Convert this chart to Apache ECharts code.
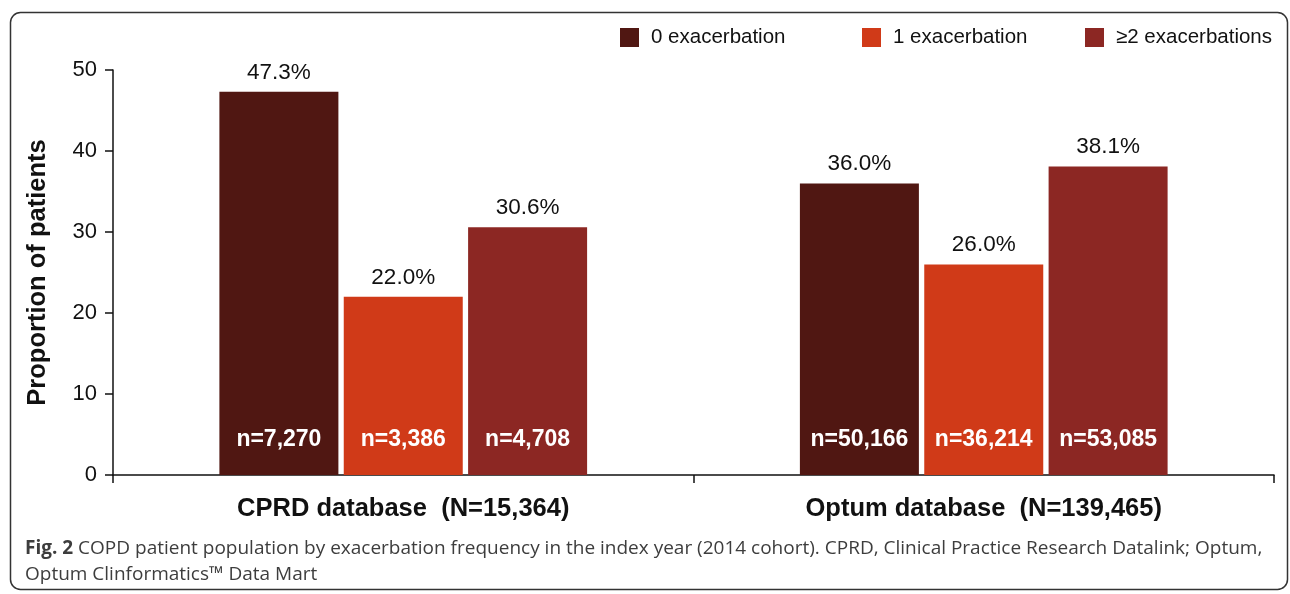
<!DOCTYPE html>
<html>
<head>
<meta charset="utf-8">
<script src="https://cdn.jsdelivr.net/npm/echarts@6/dist/echarts.min.js"></script>
<style>
html, body { margin: 0; padding: 0; background: #fff; }
#chart { width: 1290px; height: 594px; }
</style>
</head>
<body>
<div id="chart"></div>
<script>
var categories = ['CPRD database  (N=15,364)', 'Optum database  (N=139,465)'];
var seriesNames = ['0 exacerbation', '1 exacerbation', '\u22652 exacerbations'];
var zeroExac = [47.3, 36.0];
var oneExac = [22.0, 26.0];
var twoExac = [30.6, 38.1];
var zeroN = ['7,270', '50,166'];
var oneN = ['3,386', '36,214'];
var twoN = ['4,708', '53,085'];
var yTicks = [0, 10, 20, 30, 40, 50];

var colors = ['#501712', '#D03A18', '#8C2723'];
var font = 'Arial, "Liberation Sans", sans-serif';

// visible bars with the % on top
function makeSeries(name, values, idx) {
    return {
        name: name,
        type: 'bar',
        barWidth: 119,
        barGap: '4.5%',
        itemStyle: { color: colors[idx] },
        data: values,
        label: {
            show: true,
            position: 'top',
            distance: 8,
            color: '#111',
            fontFamily: font,
            fontSize: 22.5,
            formatter: function (p) { return p.value.toFixed(1) + '%'; }
        }
    };
}

// transparent copies on a hidden axis, only to hold the n= counts
function countSeries(values, counts) {
    return {
        type: 'bar',
        barWidth: 119,
        barGap: '4.5%',
        silent: true,
        xAxisIndex: 1,
        itemStyle: { color: 'transparent' },
        data: values,
        label: {
            show: true,
            position: 'insideBottom',
            distance: 24,
            color: '#fff',
            fontFamily: font,
            fontWeight: 'bold',
            fontSize: 23,
            formatter: function (p) { return 'n=' + counts[p.dataIndex]; }
        }
    };
}

var chart = echarts.init(document.getElementById('chart'));
var option = {
    animation: false,
    graphic: [{
        type: 'rect',
        shape: { x: 10.5, y: 12.5, width: 1277, height: 577, r: 10 },
        style: { fill: 'none', stroke: '#333', lineWidth: 1.5 },
        z: -1
    }, {
        type: 'text',
        left: 25,
        top: 536,
        style: {
            text: '{b|Fig. 2} COPD patient population by exacerbation frequency in the index year (2014 cohort). CPRD, Clinical Practice Research Datalink; Optum,\nOptum Clinformatics\u2122 Data Mart',
            fontFamily: '"Open Sans", sans-serif',
            fontSize: 19,
            lineHeight: 26,
            fill: '#3d3d3d',
            rich: {
                b: { fontFamily: '"Open Sans", sans-serif', fontSize: 19, fontWeight: 'bold', fill: '#3d3d3d', lineHeight: 26 }
            }
        }
    }],
    legend: [0, 1, 2].map(function (i) {
        return {
            data: [seriesNames[i]],
            left: [615, 857, 1080][i],
            top: 22,
            icon: 'rect',
            itemWidth: 19,
            itemHeight: 19,
            textStyle: { fontFamily: font, fontSize: 20.5, color: '#111', padding: [0, 0, 0, 7] }
        };
    }),
    grid: { left: 113, right: 16, top: 70, bottom: 119, containLabel: false },
    xAxis: [{
        type: 'category',
        data: categories,
        axisLine: { lineStyle: { color: '#111', width: 1.5 } },
        axisTick: { show: true, length: 8, lineStyle: { color: '#111', width: 1.5 } },
        axisLabel: { color: '#111', fontFamily: font, fontWeight: 'bold', fontSize: 25.5, margin: 21 }
    }, {
        type: 'category',
        data: categories,
        show: false
    }],
    yAxis: {
        type: 'value',
        min: 0,
        max: 50,
        interval: 10,
        name: 'Proportion of patients',
        nameLocation: 'middle',
        nameGap: 62,
        nameTextStyle: { color: '#111', fontFamily: font, fontWeight: 'bold', fontSize: 25.5 },
        splitLine: { show: false },
        axisLine: { show: true, lineStyle: { color: '#111', width: 1.5 } },
        axisTick: { show: true, length: 8, lineStyle: { color: '#111', width: 1.5 } },
        axisLabel: {
            color: '#111', fontFamily: font, fontSize: 22, margin: 16,
            formatter: function (v) { return yTicks.indexOf(v) >= 0 ? String(v) : ''; }
        }
    },
    series: [
        makeSeries(seriesNames[0], zeroExac, 0),
        makeSeries(seriesNames[1], oneExac, 1),
        makeSeries(seriesNames[2], twoExac, 2),
        countSeries(zeroExac, zeroN),
        countSeries(oneExac, oneN),
        countSeries(twoExac, twoN)
    ]
};
chart.setOption(option);
</script>
</body>
</html>
